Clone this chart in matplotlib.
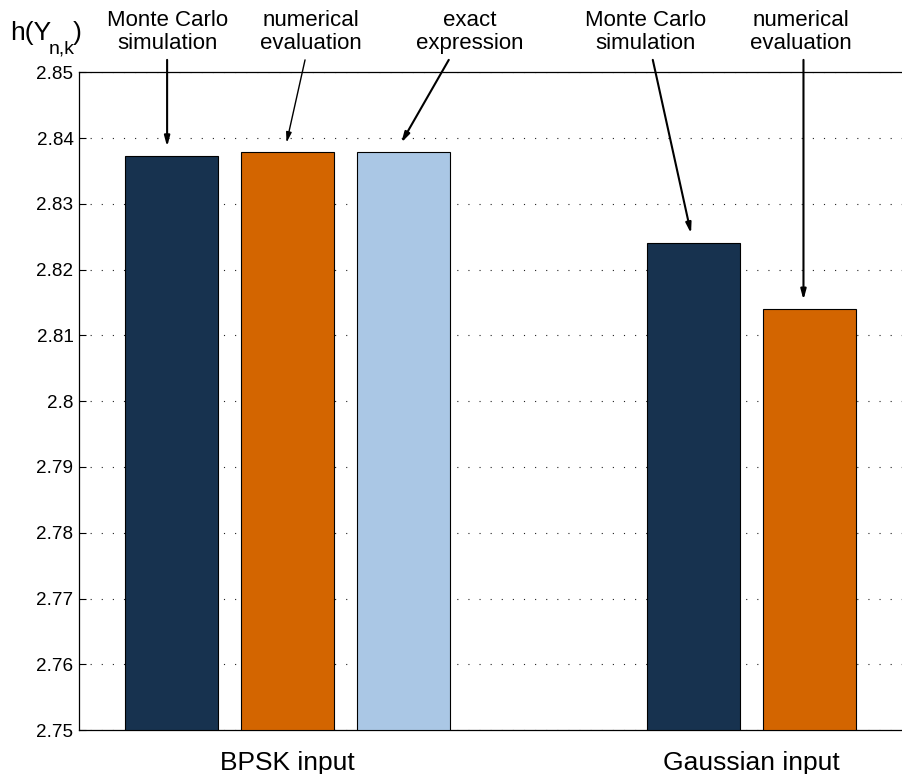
import matplotlib
matplotlib.use("Agg")
import matplotlib.pyplot as plt

plt.rcParams['font.family'] = ['Liberation Sans', 'DejaVu Sans']
plt.rcParams['mathtext.fontset'] = 'custom'
plt.rcParams['mathtext.rm'] = 'Liberation Sans'
plt.rcParams['mathtext.it'] = 'Liberation Sans'

# Entropy estimates h(Y_{n,k}) for each method and input type
methods_bpsk = ["Monte Carlo\nsimulation", "numerical\nevaluation", "exact\nexpression"]
values_bpsk = [2.8373, 2.8379, 2.8379]
methods_gauss = ["Monte Carlo\nsimulation", "numerical\nevaluation"]
values_gauss = [2.8241, 2.8140]
group_labels = ["BPSK input", "Gaussian input"]
yticks = [2.75, 2.76, 2.77, 2.78, 2.79, 2.80, 2.81, 2.82, 2.83, 2.84, 2.85]
ytick_labels = ["2.75", "2.76", "2.77", "2.78", "2.79", "2.8", "2.81", "2.82", "2.83", "2.84", "2.85"]

navy = "#17324f"
orange = "#d36500"
lightblue = "#aac7e5"

fig = plt.figure(figsize=(9.02, 7.74), dpi=100)
ax = fig.add_axes([0.0876, 0.0568, 0.9124, 0.8497])

x_bpsk = [1, 2, 3]
x_gauss = [5.5, 6.5]
base = 2.75
ax.bar(x_bpsk, [v - base for v in values_bpsk], bottom=base, width=0.8,
       color=[navy, orange, lightblue], edgecolor="black", linewidth=0.8, zorder=3)
ax.bar(x_gauss, [v - base for v in values_gauss], bottom=base, width=0.8,
       color=[navy, orange], edgecolor="black", linewidth=0.8, zorder=3)

ax.set_xlim(0.2, 7.3)
ax.set_ylim(2.75, 2.85)
ax.set_yticks(yticks)
ax.set_yticklabels(ytick_labels, fontsize=13.6)
ax.set_xticks([])
ax.tick_params(axis='y', direction='in', length=5, width=0.8, pad=4)
ax.grid(axis='y', linestyle=(0, (1, 9)), color='#222222', linewidth=0.8, zorder=0)
ax.spines['right'].set_visible(False)
for s in ['left', 'top', 'bottom']:
    ax.spines[s].set_linewidth(0.9)

# Group labels under the axis
ax.text(2, 2.7439, group_labels[0], ha='center', va='baseline', fontsize=19,
        clip_on=False)
ax.text(6.0, 2.7439, group_labels[1], ha='center', va='baseline', fontsize=19,
        clip_on=False)

# Y quantity label above the axis
fig.text(0.011, 0.948, "h(Y", ha='left', va='baseline', fontsize=19)
fig.text(0.0545, 0.931, "n,k", ha='left', va='baseline', fontsize=14)
fig.text(0.0805, 0.948, ")", ha='left', va='baseline', fontsize=19)

# Method annotations with arrows
label_y = 2.8561
tail_y = 2.8519
annots = [
    # text x, tail x, head x, bar value, text, line width
    (0.96, 0.96, 0.96, values_bpsk[0], methods_bpsk[0], 1.5),
    (2.20, 2.15, 1.99, values_bpsk[1], methods_bpsk[1], 1.0),
    (3.57, 3.39, 2.98, values_bpsk[2], methods_bpsk[2], 1.5),
    (5.09, 5.15, 5.48, values_gauss[0], methods_gauss[0], 1.5),
    (6.43, 6.45, 6.45, values_gauss[1], methods_gauss[1], 1.5),
]
for tx, ax_tail, ax_head, val, txt, lw in annots:
    ax.text(tx, label_y, txt, ha='center', va='center', fontsize=16,
            linespacing=1.15, clip_on=False)
    ax.annotate("", xy=(ax_head, val + 0.0014), xytext=(ax_tail, tail_y),
                arrowprops=dict(arrowstyle="-|>,head_length=0.6,head_width=0.16",
                                color="black", lw=lw, shrinkA=0, shrinkB=0),
                annotation_clip=False)

fig.savefig("out.png", dpi=100)
